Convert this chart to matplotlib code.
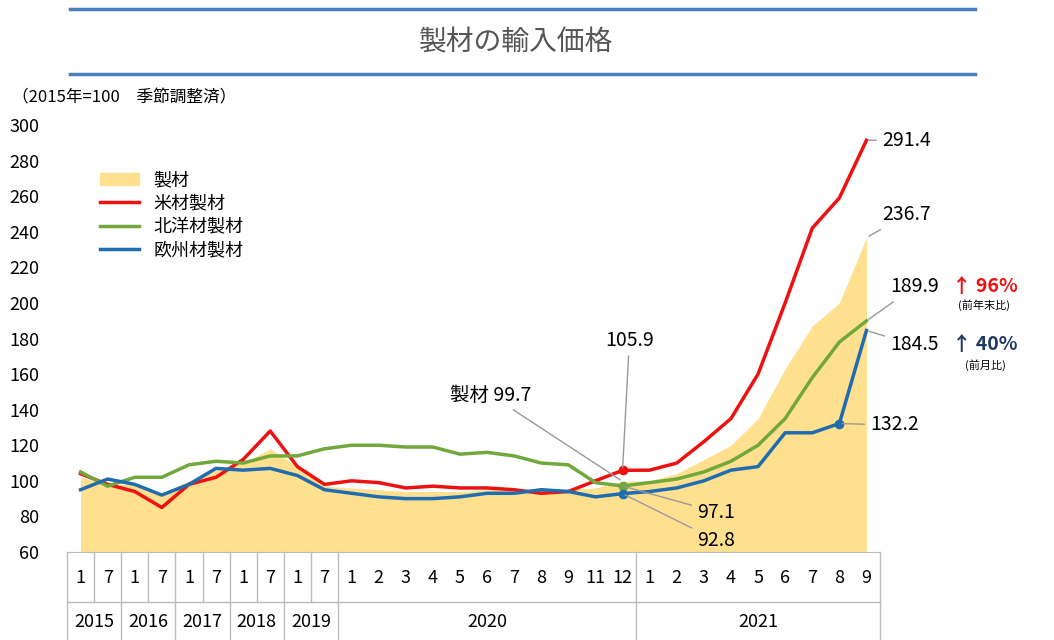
import matplotlib.pyplot as plt
from matplotlib.lines import Line2D
from matplotlib.patches import Patch

plt.rcParams["font.family"] = ["Noto Sans CJK JP", "DejaVu Sans"]

# Data
months = ["1", "7", "1", "7", "1", "7", "1", "7", "1", "7",
          "1", "2", "3", "4", "5", "6", "7", "8", "9", "11", "12",
          "1", "2", "3", "4", "5", "6", "7", "8", "9"]
years = [("2015", 2), ("2016", 2), ("2017", 2), ("2018", 2), ("2019", 2),
         ("2020", 11), ("2021", 9)]
seizai = [102, 98, 98, 93, 100, 106, 110, 118, 108, 97,
          96, 95, 94, 94, 94, 95, 95, 96, 95, 96, 99.7,
          100, 104, 112, 120, 135, 163, 187, 200, 236.7]
beizai = [104, 98, 94, 85, 98, 102, 112, 128, 108, 98,
          100, 99, 96, 97, 96, 96, 95, 93, 94, 100, 105.9,
          106, 110, 122, 135, 160, 200, 242, 259, 291.4]
hokuyo = [105, 97, 102, 102, 109, 111, 110, 114, 114, 118,
          120, 120, 119, 119, 115, 116, 114, 110, 109, 99, 97.1,
          99, 101, 105, 111, 120, 135, 158, 178, 189.9]
oshu = [95, 101, 98, 92, 98, 107, 106, 107, 103, 95,
        93, 91, 90, 90, 91, 93, 93, 95, 94, 91, 92.8,
        94, 96, 100, 106, 108, 127, 127, 132.2, 184.5]

RED, GREEN, BLUE, FILL = "#ee1111", "#70a83c", "#1f6cb0", "#ffe08e"
n = len(months)
x = list(range(n))

fig = plt.figure(figsize=(10.54, 6.4), dpi=100)
ax_h = 427
ax = fig.add_axes([67 / 1054, 88 / 640, 813 / 1054, ax_h / 640])
ax.fill_between(x, 0, seizai, color=FILL, lw=0)
ax.plot(x, beizai, color=RED, lw=2.5)
ax.plot(x, hokuyo, color=GREEN, lw=2.5)
ax.plot(x, oshu, color=BLUE, lw=2.5)
ax.plot([20], [beizai[20]], "o", color=RED, ms=6)
ax.plot([20], [hokuyo[20]], "o", color=GREEN, ms=6)
ax.plot([20], [oshu[20]], "o", color=BLUE, ms=6)
ax.plot([28], [oshu[28]], "o", color=BLUE, ms=6)
ax.set_xlim(-0.5, n - 0.5)
ax.set_ylim(60, 300)
ax.set_yticks(range(60, 301, 20))
ax.tick_params(axis="y", length=0, labelsize=13, pad=20)
ax.set_xticks([])
for s in ["top", "right", "left"]:
    ax.spines[s].set_visible(False)
ax.spines["bottom"].set_color("#bbbbbb")


def py(px):
    # pixel offset below the axes -> axes fraction
    return -px / ax_h


# two-level x axis
xt = ax.get_xaxis_transform()
for i, m in enumerate(months):
    ax.text(i, py(26), m, transform=xt, ha="center", va="center", fontsize=13)
kw = dict(transform=xt, color="#bbbbbb", lw=1, clip_on=False)
ax.add_line(Line2D([-0.5, n - 0.5], [py(50), py(50)], **kw))
pos = -0.5
for label, cnt in years:
    ax.add_line(Line2D([pos, pos], [0, py(90)], **kw))
    if cnt == 2:
        ax.add_line(Line2D([pos + 1, pos + 1], [0, py(50)], **kw))
    ax.text(pos + cnt / 2, py(70), label, transform=xt,
            ha="center", va="center", fontsize=13)
    pos += cnt
ax.add_line(Line2D([pos, pos], [0, py(90)], **kw))

# title
fig.text(0.49, 1 - 42 / 640, "製材の輸入価格", ha="center", va="center", fontsize=20, color="#555555")
fig.add_artist(Line2D([70 / 1054, 975 / 1054], [1 - 9 / 640] * 2, color="#4a7ebb", lw=2.5))
fig.add_artist(Line2D([70 / 1054, 975 / 1054], [1 - 74 / 640] * 2, color="#4a7ebb", lw=2.5))
fig.text(12 / 1054, 1 - 98 / 640, "（2015年=100　季節調整済）", ha="left", va="center", fontsize=12)

handles = [Patch(color=FILL), Line2D([], [], color=RED, lw=2.5),
           Line2D([], [], color=GREEN, lw=2.5), Line2D([], [], color=BLUE, lw=2.5)]
ax.legend(handles, ["製材", "米材製材", "北洋材製材", "欧州材製材"], loc="upper left",
          bbox_to_anchor=(0.02, 0.93), frameon=False, fontsize=13, handlelength=2.2,
          labelspacing=0.3)

# annotations
gl = dict(arrowprops=dict(arrowstyle="-", color="#999999", lw=1), fontsize=14,
          textcoords="figure pixels", va="center")
ax.annotate("291.4", (29, beizai[29]), xytext=(882, 640 - 140), ha="left", **gl)
ax.annotate("236.7", (29, seizai[29]), xytext=(882, 640 - 215), ha="left", **gl)
ax.annotate("189.9", (29, hokuyo[29]), xytext=(890, 640 - 287), ha="left", **gl)
ax.annotate("184.5", (29, oshu[29]), xytext=(890, 640 - 345), ha="left", **gl)
ax.annotate("132.2", (28, oshu[28]), xytext=(870, 640 - 425), ha="left", **gl)
ax.annotate("105.9", (20, beizai[20]), xytext=(605, 640 - 340), ha="left", **gl)
ax.annotate("製材 99.7", (20, seizai[20]), xytext=(450, 640 - 395), ha="left", **gl)
ax.annotate("97.1", (20, hokuyo[20]), xytext=(697, 640 - 512), ha="left", **gl)
ax.annotate("92.8", (20, oshu[20]), xytext=(697, 640 - 540), ha="left", **gl)

fig.text(952 / 1054, 1 - 287 / 640, "↑ 96%", color=RED, fontsize=14, fontweight="bold", va="center")
fig.text(958 / 1054, 1 - 305 / 640, "(前年末比)", fontsize=8, va="center")
fig.text(952 / 1054, 1 - 345 / 640, "↑ 40%", color="#1f3864", fontsize=14, fontweight="bold", va="center")
fig.text(965 / 1054, 1 - 365 / 640, "(前月比)", fontsize=8, va="center")

fig.savefig("out.png", dpi=100)
